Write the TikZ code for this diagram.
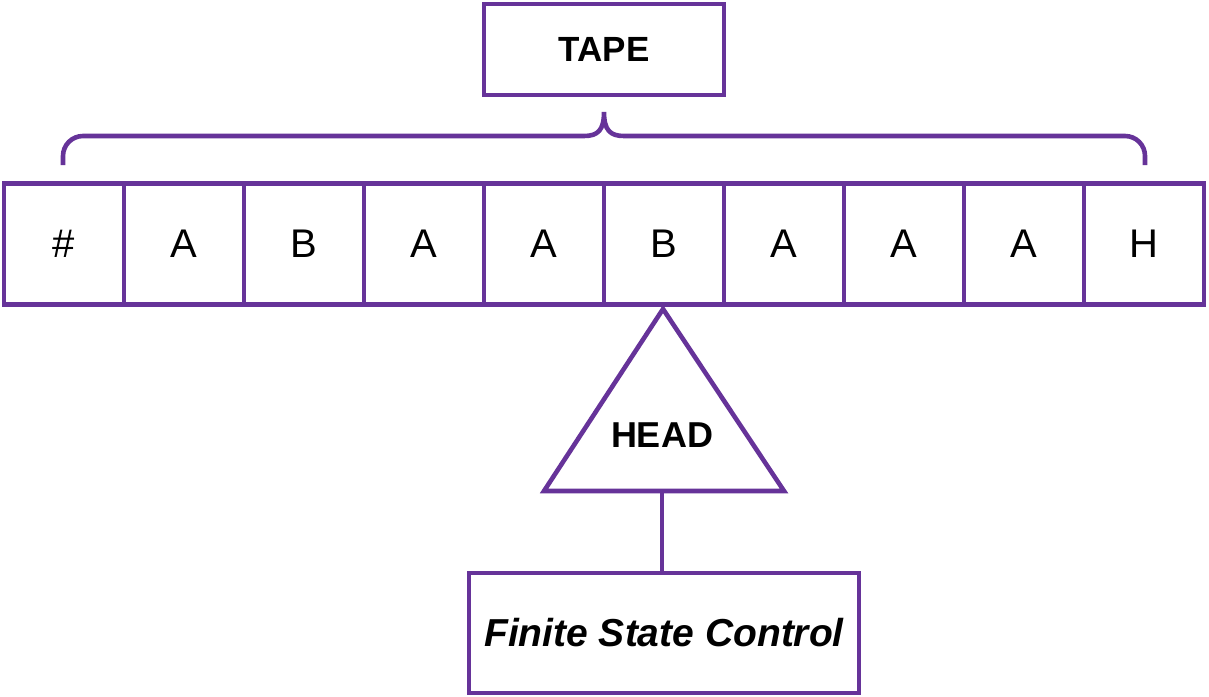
\documentclass[tikz,border=0pt]{standalone}
\usepackage{fontspec}
\setmainfont{Liberation Sans}
\definecolor{pur}{HTML}{663399}
\begin{document}
\begin{tikzpicture}[x=1pt,y=-1pt,
  line width=4.6pt,
  ln/.style={draw=pur, line width=4.6pt},
  cell/.style={ln, minimum width=120pt, minimum height=121pt, inner sep=0pt, font=\fontsize{40}{48}\selectfont}]
\useasboundingbox (0,0) rectangle (1209,696);
\node[ln, minimum width=240pt, minimum height=91pt, inner sep=0pt, font=\fontsize{35}{42}\selectfont\bfseries] (tape) at (604,49.5) {TAPE};
\foreach \t [count=\i from 0] in {\#,A,B,A,A,B,A,A,A,H} {
  \node[cell] (c\i) at (64+120*\i,244) {\t};
}
\draw[pur] (63,165) -- (63,156) arc[start angle=180, end angle=90, radius=20pt] -- (584,136)
  .. controls (598,136) and (604,130) .. (604,112)
  .. controls (604,130) and (610,136) .. (624,136) -- (1125,136)
  arc[start angle=90, end angle=0, radius=20pt] -- (1145,165);
\coordinate (apex) at (663,309);
\node[ln, minimum width=390pt, minimum height=120pt, inner sep=0pt, font=\fontsize{39}{46}\selectfont\bfseries\itshape] (fsc) at (664,633) {Finite State Control};
\draw[pur, line join=miter] (apex) -- (784,491) -- (544,491) -- cycle;
\node[font=\fontsize{36}{43}\selectfont\bfseries] (head) at (662,435) {HEAD};
\coordinate (hb) at (662,491);
\draw[pur] (hb) -- (fsc.north -| hb);
\end{tikzpicture}
\end{document}
